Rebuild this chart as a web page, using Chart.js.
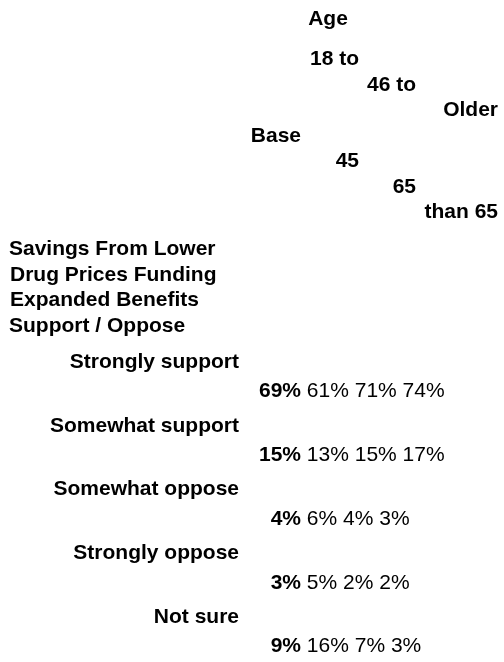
<!DOCTYPE html>
<html>
<head>
<meta charset="utf-8">
<script src="https://cdn.jsdelivr.net/npm/chart.js@4.4.0/dist/chart.umd.min.js"></script>
<style>
  html, body { margin: 0; padding: 0; background: #fff; }
</style>
</head>
<body>
<canvas id="chart" width="504" height="662"></canvas>
<script>
// --- Données ---
const questionLines = ['Savings From Lower', 'Drug Prices Funding', 'Expanded Benefits', 'Support / Oppose'];
const groupTitle = 'Age';
const columns = ['Base', '18 to 45', '46 to 65', 'Older than 65'];
const headerLines = [['Base'], ['18 to', '45'], ['46 to', '65'], ['Older', 'than 65']];
const responses = ['Strongly support', 'Somewhat support', 'Somewhat oppose', 'Strongly oppose', 'Not sure'];
const base = [69, 15, 4, 3, 9];
const age18to45 = [61, 13, 6, 5, 16];
const age46to65 = [71, 15, 4, 2, 7];
const olderThan65 = [74, 17, 3, 2, 3];

// --- Mise en page ---
const FONT = "'Liberation Sans', Arial, Helvetica, sans-serif";
const layout = {
    fontSize: 21,
    lineHeight: 25.5,
    titleX: 328,
    titleBaseline: 25,
    headerBaseline: 65,
    colRight: [301, 359, 416, 498],
    headerRows: [[3], [0, 4], [1, 5], [2, 6]],
    questionX: [9, 10, 10, 9],
    questionBaseline: 255,
    questionLineHeight: 25.7,
    valueOffset: 35
};

const tablePlugin = {
    id: 'tableText',
    afterDatasetsDraw(chart) {
        const ctx = chart.ctx;
        const bold = `bold ${layout.fontSize}px ${FONT}`;
        const normal = `${layout.fontSize}px ${FONT}`;
        ctx.save();
        ctx.fillStyle = '#000';
        ctx.textBaseline = 'alphabetic';

        // Titre "Age"
        ctx.font = bold;
        ctx.textAlign = 'center';
        ctx.fillText(groupTitle, layout.titleX, layout.titleBaseline);

        // En-têtes de colonnes (décalés ligne par ligne)
        ctx.textAlign = 'right';
        headerLines.forEach((lines, c) => {
            lines.forEach((txt, k) => {
                const y = layout.headerBaseline + layout.headerRows[c][k] * layout.lineHeight;
                ctx.fillText(txt, layout.colRight[c], y);
            });
        });

        // Question
        ctx.textAlign = 'left';
        questionLines.forEach((txt, k) => {
            ctx.fillText(txt, layout.questionX[k], layout.questionBaseline + k * layout.questionLineHeight);
        });

        // Valeurs : base en gras puis les autres à la suite
        const metas = chart.data.datasets.map((d, i) => chart.getDatasetMeta(i));
        responses.forEach((r, i) => {
            const y = metas[0].data[i].y + layout.valueOffset;
            const x = layout.colRight[0];
            ctx.font = bold;
            ctx.textAlign = 'right';
            ctx.fillText(chart.data.datasets[0].data[i].v + '%', x, y);
            const rest = chart.data.datasets.slice(1).map(d => d.data[i].v + '%').join(' ');
            ctx.font = normal;
            ctx.textAlign = 'left';
            ctx.fillText(' ' + rest, x, y);
        });
        ctx.restore();
    }
};

const series = [base, age18to45, age46to65, olderThan65];

new Chart(document.getElementById('chart').getContext('2d'), {
    type: 'scatter',
    data: {
        datasets: series.map((vals, c) => ({
            label: columns[c],
            data: vals.map((v, i) => ({ x: c, y: responses[i], v: v })),
            pointRadius: 0,
            pointHoverRadius: 0
        }))
    },
    options: {
        responsive: false,
        devicePixelRatio: 1,
        animation: false,
        layout: { padding: { top: 330, bottom: 5, left: 0, right: 0 } },
        plugins: {
            legend: { display: false },
            tooltip: { enabled: false }
        },
        scales: {
            x: { type: 'linear', display: false, min: -0.5, max: 3.5 },
            y: {
                type: 'category',
                labels: responses,
                offset: true,
                position: 'left',
                grid: { display: false, drawTicks: false },
                border: { display: false },
                ticks: {
                    autoSkip: false,
                    padding: 0,
                    color: '#000',
                    font: { family: FONT, size: 21, weight: 'bold' }
                },
                afterFit(scale) { scale.width = 239; }
            }
        }
    },
    plugins: [tablePlugin]
});
</script>
</body>
</html>
